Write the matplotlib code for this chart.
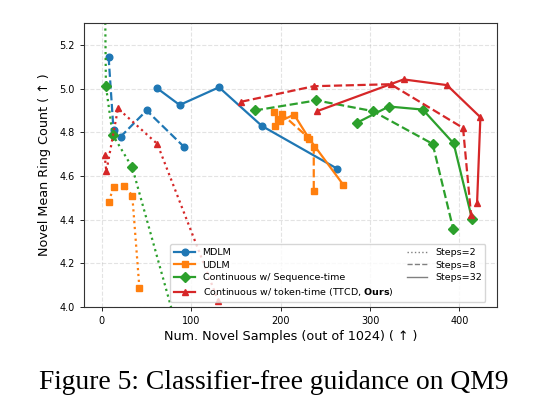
import matplotlib
matplotlib.use("Agg")
import matplotlib.pyplot as plt
from matplotlib.lines import Line2D

# (num novel samples, novel mean ring count) per method and step count
mdlm_s8_x = [7.5, 13, 21, 50, 92]
mdlm_s8_y = [5.145, 4.81, 4.78, 4.90, 4.733]
mdlm_s32_x = [62, 87, 131, 179, 263]
mdlm_s32_y = [5.001, 4.925, 5.006, 4.829, 4.634]

udlm_s2_x = [8, 13, 25, 34, 42]
udlm_s2_y = [4.483, 4.552, 4.556, 4.510, 4.086]
udlm_s8_x = [193, 197, 201, 230, 237, 237]
udlm_s8_y = [4.892, 4.862, 4.885, 4.779, 4.733, 4.53]
udlm_s32_x = [194, 199, 215, 232, 270]
udlm_s32_y = [4.831, 4.85, 4.881, 4.77, 4.56]

seq_s2_x = [3.3, 4.5, 12, 34, 91]
seq_s2_y = [5.5, 5.012, 4.789, 4.639, 3.8]
seq_s8_x = [171, 240, 303, 370, 393]
seq_s8_y = [4.90, 4.946, 4.897, 4.747, 4.358]
seq_s32_x = [285, 321, 359, 393.5, 414]
seq_s32_y = [4.843, 4.918, 4.904, 4.749, 4.404]

tok_s2_x = [3, 5, 18, 62, 130]
tok_s2_y = [4.697, 4.621, 4.909, 4.747, 4.03]
tok_s8_x = [156, 237, 323, 404, 413]
tok_s8_y = [4.940, 5.011, 5.020, 4.82, 4.42]
tok_s32_x = [241, 337.5, 386, 423.4, 419.7]
tok_s32_y = [4.897, 5.042, 5.016, 4.869, 4.478]

labels = ["MDLM", "UDLM", "Continuous w/ Sequence-time",
          "Continuous w/ token-time (TTCD, $\\bf{Ours}$)"]
colors = ["#1f77b4", "#ff7f0e", "#2ca02c", "#d62728"]
markers = ["o", "s", "D", "^"]

series = [
    (0, "--", mdlm_s8_x, mdlm_s8_y),
    (0, "-", mdlm_s32_x, mdlm_s32_y),
    (1, ":", udlm_s2_x, udlm_s2_y),
    (1, "--", udlm_s8_x, udlm_s8_y),
    (1, "-", udlm_s32_x, udlm_s32_y),
    (2, ":", seq_s2_x, seq_s2_y),
    (2, "--", seq_s8_x, seq_s8_y),
    (2, "-", seq_s32_x, seq_s32_y),
    (3, ":", tok_s2_x, tok_s2_y),
    (3, "--", tok_s8_x, tok_s8_y),
    (3, "-", tok_s32_x, tok_s32_y),
]

fig = plt.figure(figsize=(5.42, 4.19), dpi=100)
ax = fig.add_axes([0.155, 0.267, 0.762, 0.678])

for m, ls, xs, ys in series:
    ax.plot(xs, ys, linestyle=ls, color=colors[m], marker=markers[m],
            markersize=4.8, linewidth=1.6)

ax.set_xlim(-20, 442)
ax.set_ylim(4.0, 5.3)
ax.set_xticks([0, 100, 200, 300, 400])
ax.set_yticks([4.0, 4.2, 4.4, 4.6, 4.8, 5.0, 5.2])
ax.grid(True, linestyle="--", alpha=0.35)
ax.tick_params(labelsize=7, length=3, width=0.6)
for s in ax.spines.values():
    s.set_linewidth(0.8)
    s.set_color("#333333")

ax.set_xlabel("Num. Novel Samples (out of 1024) ( \u2191 )", fontsize=9.2, labelpad=3)
ax.set_ylabel("Novel Mean Ring Count ( \u2191 )", fontsize=9.2, labelpad=6)

handles = [Line2D([0], [0], color=colors[i], marker=markers[i], markersize=4.8,
                  linewidth=1.6, label=labels[i]) for i in range(4)]
handles += [Line2D([0], [0], color="gray", linestyle=":", linewidth=1, label="Steps=2"),
            Line2D([0], [0], color="gray", linestyle="--", linewidth=1, label="Steps=8"),
            Line2D([0], [0], color="gray", linestyle="-", linewidth=1, label="Steps=32"),
            Line2D([0], [0], color="none", label=" ")]
leg = ax.legend(handles=handles, ncol=2, loc="lower right", fontsize=6.8,
                bbox_to_anchor=(0.972, 0.018), borderaxespad=0,
                columnspacing=1.4, handlelength=2.2, labelspacing=0.4)
leg.set_zorder(10)

fig.text(0.505, 0.086, "Figure 5: Classifier-free guidance on QM9",
         ha="center", va="center", fontsize=19.8, family="Liberation Serif")

fig.savefig("out.png", dpi=100)
